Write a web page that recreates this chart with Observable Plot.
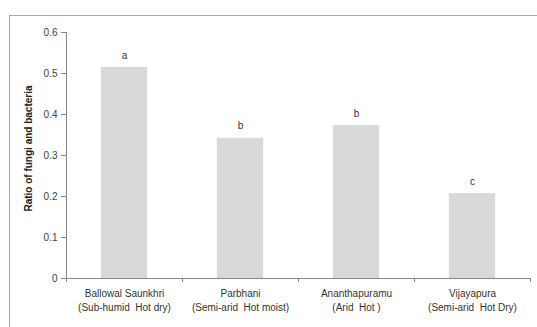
<!DOCTYPE html>
<html>
<head>
<meta charset="utf-8">
<script src="https://cdn.jsdelivr.net/npm/d3@7"></script>
<script src="https://cdn.jsdelivr.net/npm/@observablehq/plot@0.6"></script>
<style>
  html, body { margin: 0; padding: 0; background: #fff; }
  #wrap { position: relative; width: 537px; height: 327px; overflow: hidden; }
  #border { position: absolute; left: 9px; top: 15px; width: 560px; height: 360px;
            border: 1.5px solid #a8a8a8; box-sizing: border-box; }
  #chart { position: absolute; left: 0; top: 0; }
  svg text { white-space: pre; }
</style>
</head>
<body>
<div id="wrap"><div id="border"></div><div id="chart"></div></div>
<script>
const sites = ["Ballowal Saunkhri", "Parbhani", "Ananthapuramu", "Vijayapura"];
const zones = ["(Sub-humid  Hot dry)", "(Semi-arid  Hot moist)", "(Arid  Hot )", "(Semi-arid  Hot Dry)"];
const ratios = [0.515, 0.342, 0.373, 0.207];
const letters = ["a", "b", "b", "c"];
const yTicks = [0, 0.1, 0.2, 0.3, 0.4, 0.5, 0.6];

const data = sites.map((s, i) => ({i, site: s, zone: zones[i], value: ratios[i], letter: letters[i]}));
const halfBar = 0.2;

const plot = Plot.plot({
  width: 537,
  height: 327,
  marginLeft: 66,
  marginRight: 7,
  marginTop: 32,
  marginBottom: 49,
  style: {fontFamily: "'Liberation Sans', Arial, sans-serif", fontSize: "10px", color: "#333", background: "transparent"},
  x: {domain: [0, sites.length], type: "linear"},
  y: {domain: [0, 0.6]},
  marks: [
    Plot.rectY(data, {x1: d => d.i + 0.5 - halfBar, x2: d => d.i + 0.5 + halfBar, y1: 0, y2: "value", fill: "#d9d9d9"}),
    Plot.text(data, {x: d => d.i + 0.5, y: "value", text: "letter", dy: -12, fill: "#333", fontSize: 10}),
    Plot.ruleY([0], {stroke: "#868686", strokeWidth: 1}),
    Plot.ruleX([0], {stroke: "#868686", strokeWidth: 1}),
    Plot.axisY({ticks: yTicks, tickFormat: d => d === 0 ? "0" : d3.format(".1f")(d), tickSize: 5, tickPadding: 4,
                stroke: "#868686", fill: "#404040", label: "Ratio of fungi and bacteria", labelAnchor: "center",
                labelArrow: "none", labelOffset: 42, fontWeight: "normal"}),
    Plot.axisX({ticks: d3.range(sites.length + 1), tickFormat: () => "", tickSize: 4, stroke: "#868686", label: null}),
    Plot.axisX({ticks: d3.range(sites.length).map(i => i + 0.5),
                tickFormat: v => sites[Math.floor(v)] + "\n" + zones[Math.floor(v)],
                tickSize: 0, tickPadding: 8, lineHeight: 1.45, fill: "#333", label: null})
  ]
});
document.getElementById("chart").appendChild(plot);
// bold y-axis title, nudged slightly upward as in the reference
d3.select(plot).selectAll("g[aria-label='y-axis label'] text")
  .attr("font-weight", "bold").attr("fill", "#222").attr("dx", "7");
</script>
</body>
</html>
